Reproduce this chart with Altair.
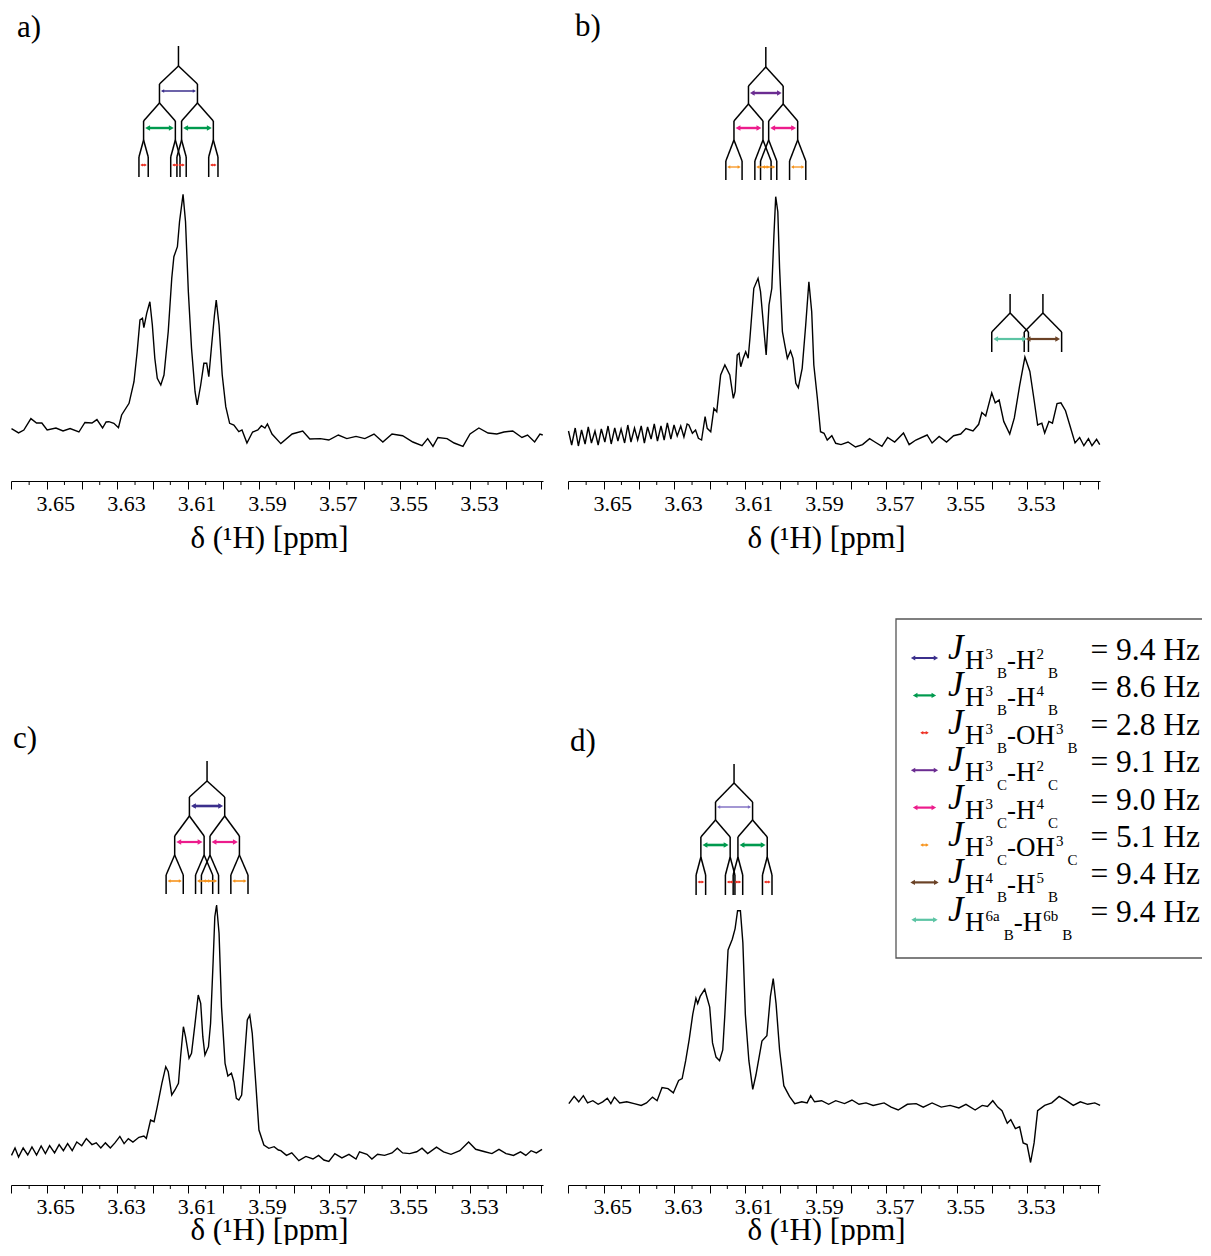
import altair as alt
import pandas as pd

FONT = "Liberation Serif"

# ---------------------------------------------------------------- data
# axis (ppm)
X_DOMAIN = [3.50943, 3.66014]
MAJOR_TICKS = [3.66, 3.65, 3.64, 3.63, 3.62, 3.61, 3.60, 3.59, 3.58, 3.57,
               3.56, 3.55, 3.54, 3.53, 3.52, 3.51]
MINOR_TICKS = [3.655, 3.645, 3.635, 3.625, 3.615, 3.605, 3.595, 3.585, 3.575,
               3.565, 3.555, 3.545, 3.535, 3.525, 3.515]
LABEL_VALUES = [3.65, 3.63, 3.61, 3.59, 3.57, 3.55, 3.53]
AXIS_TITLE = "δ (¹H) [ppm]"
PANEL_LABELS = ["a)", "b)", "c)", "d)"]

# panel a spectrum
A_PPM = [3.6600, 3.6580, 3.6565, 3.6545, 3.6529, 3.6514, 3.6499, 3.6474, 3.6454, 3.6434,
         3.6409, 3.6392, 3.6372, 3.6358, 3.6342, 3.6332, 3.6324, 3.6310, 3.6297, 3.6288,
         3.6267, 3.6253, 3.6244, 3.6236, 3.6229, 3.6225, 3.6217, 3.6208, 3.6201, 3.6194,
         3.6187, 3.6177, 3.6168, 3.6156, 3.6146, 3.6140, 3.6130, 3.6124, 3.6114, 3.6107,
         3.6099, 3.6090, 3.6080, 3.6074, 3.6064, 3.6055, 3.6047, 3.6041, 3.6033, 3.6025,
         3.6020, 3.6012, 3.6003, 3.5993, 3.5982, 3.5970, 3.5956, 3.5947, 3.5933, 3.5917,
         3.5902, 3.5892, 3.5882, 3.5875, 3.5862, 3.5837, 3.5805, 3.5775, 3.5755, 3.5725,
         3.5701, 3.5674, 3.5650, 3.5624, 3.5599, 3.5573, 3.5548, 3.5522, 3.5492, 3.5463,
         3.5437, 3.5421, 3.5406, 3.5392, 3.5366, 3.5346, 3.5321, 3.5301, 3.5276, 3.5250,
         3.5225, 3.5205, 3.5180, 3.5154, 3.5138, 3.5118, 3.5103, 3.5095]
A_INT = [52.4, 48.1, 51, 62.4, 58, 58, 51, 53, 50, 52.4,
         49, 58.5, 58, 61.4, 53, 59, 59.3, 57.7, 53.3, 66,
         77.7, 99.3, 129.3, 161, 162.7, 153.3, 167.7, 179.3, 156, 122.7,
         102.7, 96, 106, 149.3, 202.7, 224.3, 234.3, 259.3, 286.7, 259.3,
         189.3, 132.7, 89.3, 76, 96, 117.7, 117.7, 104.3, 136, 166,
         181, 156, 106, 74.3, 57.7, 56, 49.3, 51, 38, 49,
         51, 55.3, 53, 57, 47, 37.4, 47, 50, 42, 42.4,
         41, 46, 42.4, 44.6, 42.4, 47, 39, 47, 45.3, 39,
         35.3, 42.4, 34.6, 43.5, 42.4, 38, 34.6, 47, 53, 48,
         47, 49, 50, 43.5, 46, 39, 47, 46]

# panel b spectrum
B_PPM = [3.6600, 3.6591, 3.6581, 3.6572, 3.6563, 3.6553, 3.6544, 3.6535, 3.6525, 3.6516,
         3.6507, 3.6497, 3.6488, 3.6479, 3.6469, 3.6460, 3.6451, 3.6441, 3.6432, 3.6423,
         3.6413, 3.6404, 3.6394, 3.6385, 3.6376, 3.6366, 3.6357, 3.6348, 3.6338, 3.6329,
         3.6320, 3.6310, 3.6301, 3.6292, 3.6282, 3.6273, 3.6264,
         3.6259, 3.6249, 3.6240, 3.6232, 3.6223, 3.6213, 3.6207, 3.6197, 3.6188, 3.6180,
         3.6169, 3.6157, 3.6143, 3.6133, 3.6128, 3.6122, 3.6117, 3.6112, 3.6105, 3.6098,
         3.6091, 3.6086, 3.6075, 3.6063, 3.6056, 3.6046, 3.6040, 3.6032, 3.6024, 3.6018,
         3.6013, 3.6007, 3.6002, 3.5994, 3.5988, 3.5980, 3.5971, 3.5964, 3.5956, 3.5949,
         3.5938, 3.5928, 3.5919, 3.5911, 3.5905, 3.5895, 3.5886, 3.5876, 3.5867, 3.5854,
         3.5843, 3.5828, 3.5808, 3.5787, 3.5767, 3.5747, 3.5732, 3.5712, 3.5696, 3.5676,
         3.5651, 3.5635, 3.5616, 3.5584, 3.5570, 3.5550, 3.5529, 3.5509, 3.5489, 3.5474,
         3.5454, 3.5438, 3.5429, 3.5418, 3.5401, 3.5391, 3.5380, 3.5367, 3.5350, 3.5337,
         3.5322, 3.5307, 3.5293, 3.5281, 3.5271, 3.5259, 3.5251, 3.5239, 3.5229, 3.5216,
         3.5205, 3.5192, 3.5180, 3.5165, 3.5152, 3.5140, 3.5127, 3.5117, 3.5104, 3.5095]
B_INT = [50, 36, 53, 35, 51, 37, 54, 38, 50, 36,
         52, 39, 55, 37, 53, 40, 52, 38, 56, 39,
         53, 41, 55, 38, 54, 42, 57, 40, 55, 41,
         58, 42, 56, 45, 55, 44, 57,
         56, 47.7, 51, 42.7, 41, 64.3, 52.7, 49.3, 72.7, 69.3,
         106, 116, 106, 82.7, 89.3, 126, 127.7, 114.3, 122.7, 129.3,
         122.7, 142.7, 192.7, 202.7, 189.3, 149.3, 126, 176, 192.7, 246,
         284.3, 269.3, 212.7, 149.3, 137.7, 122.7, 130, 122.7, 97.7, 93.3,
         112.7, 156, 199.3, 169.3, 116, 82.7, 49.3, 47.7, 41, 45.3,
         37.7, 36.4, 39, 34, 36.4, 42.4, 39, 34.6, 43.5, 39,
         48, 36.4, 41, 46, 38, 44.6, 39, 45.3, 47, 52.4,
         50, 56.7, 68.5, 65, 88.1, 78.1, 81, 59.6, 47, 63.1,
         95.3, 124, 109.6, 81, 56, 57.8, 48.1, 59.6, 57.8, 77.4,
         78.1, 70.3, 56, 38.1, 43.5, 35.3, 42.4, 35.3, 41.7, 36.4]

# panel c spectrum
C_PPM = [3.6600, 3.6590, 3.6580, 3.6567, 3.6554, 3.6542, 3.6529, 3.6516, 3.6504, 3.6492,
         3.6478, 3.6465, 3.6453, 3.6441, 3.6428, 3.6415, 3.6401, 3.6388, 3.6372, 3.6360,
         3.6347, 3.6334, 3.6320, 3.6307, 3.6293, 3.6281, 3.6269, 3.6256, 3.6239, 3.6225,
         3.6218, 3.6206, 3.6196, 3.6187, 3.6174, 3.6163, 3.6156, 3.6146, 3.6137, 3.6127,
         3.6121, 3.6113, 3.6107, 3.6097, 3.6090, 3.6080, 3.6071, 3.6064, 3.6058, 3.6052,
         3.6042, 3.6036, 3.6029, 3.6024, 3.6019, 3.6012, 3.6005, 3.5995, 3.5987, 3.5977,
         3.5970, 3.5963, 3.5956, 3.5948, 3.5941, 3.5932, 3.5925, 3.5918, 3.5908, 3.5899,
         3.5885, 3.5871, 3.5856, 3.5844, 3.5837, 3.5821, 3.5806, 3.5786, 3.5766, 3.5746,
         3.5730, 3.5715, 3.5701, 3.5684, 3.5664, 3.5644, 3.5624, 3.5614, 3.5593, 3.5579,
         3.5563, 3.5543, 3.5522, 3.5507, 3.5492, 3.5472, 3.5452, 3.5437, 3.5421, 3.5396,
         3.5376, 3.5355, 3.5330, 3.5305, 3.5285, 3.5259, 3.5239, 3.5219, 3.5199, 3.5178,
         3.5158, 3.5143, 3.5128, 3.5113, 3.5097]
C_INT = [29.6, 37, 28, 37, 30, 38, 30, 39, 31.4, 39.3,
         32.1, 40.4, 34.3, 41.4, 34.3, 43, 39.3, 46.4, 40.4, 42.1,
         37, 42.1, 37, 42.1, 48.6, 41.4, 46.4, 43, 47.7, 49,
         46.7, 65, 63.3, 78.3, 101.7, 118.3, 113.3, 90, 95, 101.7,
         128.3, 158.3, 148.3, 126.7, 131.7, 161.7, 190, 181.7, 148.3, 130,
         138.3, 161.7, 221.7, 268.3, 280, 251.7, 178.3, 121.7, 109, 111.7,
         103.3, 86.7, 85, 90, 121.7, 165, 170, 151.7, 101.7, 55,
         40, 36.7, 38.3, 35, 34.3, 29.6, 32.1, 24.3, 28.6, 26,
         29.6, 25, 23.6, 31.4, 27.1, 30.7, 26, 33.2, 30.7, 26,
         30.7, 29.6, 32.1, 36.8, 32.1, 31.4, 33.2, 36.8, 31.4, 37.9,
         33.2, 30.7, 34.3, 42.9, 35.7, 33.2, 31.4, 35.7, 31.4, 29.6,
         33.2, 29.6, 34.3, 32.1, 35.7]

# panel d spectrum
D_PPM = [3.6599, 3.6584, 3.6571, 3.6558, 3.6546, 3.6531, 3.6516, 3.6503, 3.6490, 3.6480,
         3.6470, 3.6455, 3.6435, 3.6414, 3.6394, 3.6379, 3.6362, 3.6349, 3.6335, 3.6318,
         3.6303, 3.6288, 3.6278, 3.6268, 3.6258, 3.6248, 3.6239, 3.6234, 3.6227, 3.6214,
         3.6207, 3.6200, 3.6192, 3.6182, 3.6172, 3.6163, 3.6157, 3.6148, 3.6136, 3.6128,
         3.6121, 3.6113, 3.6106, 3.6099, 3.6089, 3.6078, 3.6069, 3.6052, 3.6038, 3.6028,
         3.6020, 3.6012, 3.6002, 3.5990, 3.5974, 3.5959, 3.5939, 3.5924, 3.5914, 3.5903,
         3.5883, 3.5863, 3.5843, 3.5818, 3.5797, 3.5777, 3.5757, 3.5737, 3.5706, 3.5686,
         3.5666, 3.5640, 3.5615, 3.5595, 3.5570, 3.5544, 3.5519, 3.5494, 3.5474, 3.5448,
         3.5428, 3.5413, 3.5398, 3.5384, 3.5372, 3.5357, 3.5347, 3.5334, 3.5322, 3.5312,
         3.5301, 3.5291, 3.5281, 3.5271, 3.5251, 3.5231, 3.5210, 3.5190, 3.5170, 3.5150,
         3.5129, 3.5109, 3.5094]
D_INT = [81.4, 88.6, 83.2, 89.3, 82.1, 84.3, 80.7, 83.2, 86.8, 81.4,
         87.9, 82.1, 83.2, 81.4, 79.6, 82.1, 87.9, 84.3, 97.5, 96.4,
         92.1, 104.6, 106.4, 124.3, 145.7, 170.7, 186.8, 181.4, 188.6, 195.7,
         186.8, 177.9, 142.1, 127.9, 124.3, 135, 170.7, 235, 245.7, 256.4,
         274.3, 274.3, 242.1, 170.7, 124.3, 95.7, 110, 143.9, 149.3, 188.6,
         206.4, 181.4, 135, 99.3, 88.6, 81.4, 83.2, 82.1, 89.3, 83.2,
         84.3, 80.7, 84.3, 81.4, 85, 80.7, 82.1, 79.6, 82.1, 77.9,
         75, 80.7, 81.4, 77.9, 82.1, 77.9, 79.6, 77.1, 80.7, 75,
         79.6, 78.6, 84.3, 77.9, 74.3, 61.8, 65.4, 56.4, 58.2, 42.1,
         40.4, 22.5, 42.1, 74.3, 79.6, 82.1, 88.6, 84.3, 79.6, 83.2,
         80.7, 82.1, 79.6]

# splitting trees: centre (ppm), splittings (ppm), level heights, arrow heights
TREE_A = dict(center=3.6127, splits=[0.01076, 0.0090, 0.00263],
              levels=[435, 415, 397, 378, 360, 341, 324, 304], arrows=[390, 353, 316],
              colors=["#3b2f8c", "#009a4e", "#ee3124"])
TREE_B = dict(center=3.6041, splits=[0.00983, 0.00822, 0.0046],
              levels=[434, 414, 395, 377, 360, 341, 320, 301], arrows=[388, 353, 314],
              colors=["#6b2c91", "#ec1c8c", "#f7941d"])
TREE_B6A = dict(center=3.5349, splits=[0.0104], levels=[187, 168, 149, 129],
                arrows=[142], colors=["#5cc4a4"])
TREE_B6B = dict(center=3.5256, splits=[0.0106], levels=[187, 168, 149, 129],
                arrows=[142], colors=["#6b4226"])
TREE_C = dict(center=3.6046, splits=[0.0100, 0.00834, 0.00486],
              levels=[424, 404, 388, 369, 349, 330, 310, 291], arrows=[379, 343, 304],
              colors=["#3b2f8c", "#ec1c8c", "#f7941d"])
TREE_D = dict(center=3.6131, splits=[0.0105, 0.0083, 0.0027],
              levels=[421, 402, 383, 365, 348, 328, 310, 290], arrows=[378, 340, 303],
              colors=["#7b6bc0", "#009a4e", "#ee3124"])

# legend
LEG_COLORS = ["#3b2f8c", "#009a4e", "#ee3124", "#6b2c91", "#ec1c8c", "#f7941d",
              "#6b4226", "#5cc4a4"]
LEG_ATOM2 = ["H", "H", "OH", "H", "H", "OH", "H", "H"]
LEG_SUP1 = ["3", "3", "3", "3", "3", "3", "4", "6a"]
LEG_SUP2 = ["2", "4", "3", "2", "4", "3", "5", "6b"]
LEG_SUB = ["B", "B", "B", "C", "C", "C", "B", "B"]
LEG_J = [9.4, 8.6, 2.8, 9.1, 9.0, 5.1, 9.4, 9.4]

# ---------------------------------------------------------------- layout / style
W, H = 532, 471
ROW_GAP = 233
PX_PER_PPM = W / (X_DOMAIN[1] - X_DOMAIN[0])
ARROW_WIDTHS = {"a": [1.3, 2.4, 1.6], "b": [2.4, 2.4, 1.3], "c": [2.6, 2.2, 1.6],
                "d": [1.4, 2.6, 1.6], "b2": [2.2]}
HEAD_SIZES = {"a": [14, 32, 9], "b": [28, 32, 12], "c": [32, 32, 12],
              "d": [14, 32, 9], "b2": [30]}

xscale = alt.Scale(domain=X_DOMAIN, reverse=True, nice=False, zero=False)
yscale = alt.Scale(domain=[0, H], nice=False, zero=False)

label_ints = ",".join(str(int(round(v * 100))) for v in LABEL_VALUES)
label_expr = (f"indexof([{label_ints}], round(datum.value*100)) >= 0 ? "
              f"format(datum.value, '.2f') : ''")


def make_axis(label_pad, title_pad):
    return alt.Axis(values=MAJOR_TICKS, tickSize=8, tickWidth=1, domainWidth=1,
                    labelExpr=label_expr, labelFontSize=22, labelOffset=8.5,
                    labelPadding=label_pad, labelOverlap=False, labelFlush=False,
                    title=AXIS_TITLE, titleFontSize=31, titleFontWeight="normal",
                    titlePadding=title_pad, titleX=W / 2 - 8)


AXIS_TOP = make_axis(4, 9)
AXIS_BOTTOM = make_axis(3, -2)


def px_to_ppm(px):
    return X_DOMAIN[1] - px / PX_PER_PPM


def py_to_int(py):
    return H - py


def build_tree(t, key):
    segs, arrs, heads = [], [], []
    pos = [t["center"]]
    segs.append((t["center"], t["levels"][0], t["center"], t["levels"][1]))
    lv = t["levels"]
    for k, s in enumerate(t["splits"]):
        new = []
        w = ARROW_WIDTHS[key][k]
        hs = HEAD_SIZES[key][k]
        gap = 1.2 / PX_PER_PPM
        half_head = (hs ** 0.5) / 2 / PX_PER_PPM
        for p in pos:
            for sgn in (1, -1):
                q = p + sgn * s / 2
                segs.append((p, lv[2 * k + 1], q, lv[2 * k + 2]))
                segs.append((q, lv[2 * k + 2], q, lv[2 * k + 3]))
                new.append(q)
            left = p + s / 2 - gap
            right = p - s / 2 + gap
            arrs.append(dict(x1=left - half_head, x2=right + half_head,
                             y=t["arrows"][k], color=t["colors"][k], w=w))
            heads.append(dict(x=left - half_head, y=t["arrows"][k], shape="triangle-left",
                              size=hs, color=t["colors"][k]))
            heads.append(dict(x=right + half_head, y=t["arrows"][k], shape="triangle-right",
                              size=hs, color=t["colors"][k]))
        pos = new
    return segs, arrs, heads


def panel(ppm, inten, trees, label, lx, ly, axis, legend=False):
    def X(field):
        return alt.X(field, scale=xscale, axis=axis)

    def Y(field):
        return alt.Y(field, scale=yscale, axis=None)

    def arrow_layers(arrs, heads):
        arr_c = alt.Chart(pd.DataFrame(arrs)).mark_rule().encode(
            x=X("x1:Q"), x2="x2:Q", y=Y("y:Q"),
            color=alt.Color("color:N", scale=None),
            strokeWidth=alt.StrokeWidth("w:Q", scale=None))
        head_c = alt.Chart(pd.DataFrame(heads)).mark_point(
            filled=True, opacity=1, strokeWidth=0).encode(
            x=X("x:Q"), y=Y("y:Q"),
            shape=alt.Shape("shape:N", scale=None),
            size=alt.Size("size:Q", scale=None),
            color=alt.Color("color:N", scale=None))
        return [arr_c, head_c]

    df = pd.DataFrame(list(zip(ppm, inten)), columns=["ppm", "I"])
    line = alt.Chart(df).mark_line(color="black", strokeWidth=1.4).encode(
        x=X("ppm:Q"), y=Y("I:Q"))
    minor = alt.Chart(pd.DataFrame({"ppm": MINOR_TICKS})).mark_rule(
        color="black", strokeWidth=1).encode(
        x=X("ppm:Q"), y=alt.value(H), y2=alt.value(H + 4))
    lab = alt.Chart(pd.DataFrame({"t": [label]})).mark_text(
        font=FONT, fontSize=31, align="left", baseline="alphabetic",
        color="black").encode(text="t:N", x=alt.value(lx), y=alt.value(ly))

    segs, arrs, heads = [], [], []
    for t, key in trees:
        s, a, h = build_tree(t, key)
        segs += s
        arrs += a
        heads += h
    seg_df = pd.DataFrame(segs, columns=["x1", "y1", "x2", "y2"])
    seg_c = alt.Chart(seg_df).mark_rule(color="black", strokeWidth=1.5).encode(
        x=X("x1:Q"), x2="x2:Q", y=Y("y1:Q"), y2="y2:Q")

    layers = [line, minor, seg_c] + arrow_layers(arrs, heads) + [lab]

    if legend:
        # box runs past the right page edge, as in the reference
        bx0, bx1, by0, by1 = 328, 640, -95, 244
        box = alt.Chart(pd.DataFrame({"x1": [px_to_ppm(bx0)], "x2": [px_to_ppm(bx1)],
                                      "y1": [py_to_int(by0)], "y2": [py_to_int(by1)]})
                        ).mark_rect(fill="white", stroke="#555555", strokeWidth=1.3).encode(
            x=X("x1:Q"), x2="x2:Q", y=Y("y1:Q"), y2="y2:Q")
        arrow_len = [28, 24, 9, 28, 24, 9, 29, 27]
        arrow_w = [2.0, 2.2, 1.5, 2.0, 2.2, 1.5, 2.2, 2.2]
        head_sz = [26, 28, 12, 26, 28, 12, 28, 28]
        rows, lheads, texts, jtexts, vtexts = [], [], [], [], []

        def tw(s, fs):
            wd = {"H": .722, "O": .722, "-": .333, "B": .667, "C": .667, "a": .444,
                  "b": .5}
            return sum(wd.get(ch, .5) for ch in s) * fs

        big, small = 27, 15
        for i in range(len(LEG_J)):
            yc = -64 + 37.4 * i
            cx = 356.5
            L = arrow_len[i]
            hh = head_sz[i] ** 0.5 / 2
            ya = py_to_int(yc + 8)
            rows.append(dict(x1=px_to_ppm(cx - L / 2 + hh), x2=px_to_ppm(cx + L / 2 - hh),
                             y=ya, color=LEG_COLORS[i], w=arrow_w[i]))
            lheads.append(dict(x=px_to_ppm(cx - L / 2 + hh), y=ya, shape="triangle-left",
                               size=head_sz[i], color=LEG_COLORS[i]))
            lheads.append(dict(x=px_to_ppm(cx + L / 2 - hh), y=ya, shape="triangle-right",
                               size=head_sz[i], color=LEG_COLORS[i]))
            jtexts.append(dict(x=px_to_ppm(380), y=py_to_int(yc + 9), t="J"))
            x = 397
            segs_t = [("H", big, 19, 1), (LEG_SUP1[i], small, 9, 4),
                      (LEG_SUB[i], small, 28, 0), ("-" + LEG_ATOM2[i], big, 19, 1),
                      (LEG_SUP2[i], small, 9, 4), (LEG_SUB[i], small, 28, 0)]
            for txt, fs, dy, extra_gap in segs_t:
                texts.append(dict(x=px_to_ppm(x), y=py_to_int(yc + dy), t=txt, fs=fs))
                x += tw(txt, fs) + extra_gap
            vtexts.append(dict(x=px_to_ppm(632), y=py_to_int(yc + 10),
                               t=f"= {LEG_J[i]:.1f} Hz"))

        jt = alt.Chart(pd.DataFrame(jtexts)).mark_text(
            font=FONT, fontSize=35, fontStyle="italic", align="left",
            baseline="alphabetic", color="black").encode(
            x=X("x:Q"), y=Y("y:Q"), text="t:N")
        st = alt.Chart(pd.DataFrame(texts)).mark_text(
            font=FONT, align="left", baseline="alphabetic", color="black").encode(
            x=X("x:Q"), y=Y("y:Q"), text="t:N", size=alt.Size("fs:Q", scale=None))
        vt = alt.Chart(pd.DataFrame(vtexts)).mark_text(
            font=FONT, fontSize=31.5, align="right", baseline="alphabetic",
            color="black").encode(x=X("x:Q"), y=Y("y:Q"), text="t:N")
        layers += [box] + arrow_layers(rows, lheads) + [jt, st, vt]

    return alt.layer(*layers).properties(width=W, height=H)


pa = panel(A_PPM, A_INT, [(TREE_A, "a")], PANEL_LABELS[0], 6, 27, AXIS_TOP)
pb = panel(B_PPM, B_INT, [(TREE_B, "b"), (TREE_B6A, "b2"), (TREE_B6B, "b2")],
           PANEL_LABELS[1], 7, 26, AXIS_TOP)
pc = panel(C_PPM, C_INT, [(TREE_C, "c")], PANEL_LABELS[2], 2, 34, AXIS_BOTTOM)
pdd = panel(D_PPM, D_INT, [(TREE_D, "d")], PANEL_LABELS[3], 2, 37, AXIS_BOTTOM,
            legend=True)

# the legend box is cut by the right page edge (negative right padding)
chart = (alt.concat(pa, pb, pc, pdd, columns=2, bounds="flush",
                    spacing={"row": ROW_GAP, "column": 25})
         .properties(padding={"left": 0, "top": 2, "right": -7, "bottom": 0})
         .configure_view(stroke=None)
         .configure_axis(grid=False, domainColor="black", tickColor="black",
                         labelColor="black", titleColor="black",
                         labelFont=FONT, titleFont=FONT)
         .configure_text(font=FONT))

chart.save("out.html", embed_options={"renderer": "svg", "actions": False})
